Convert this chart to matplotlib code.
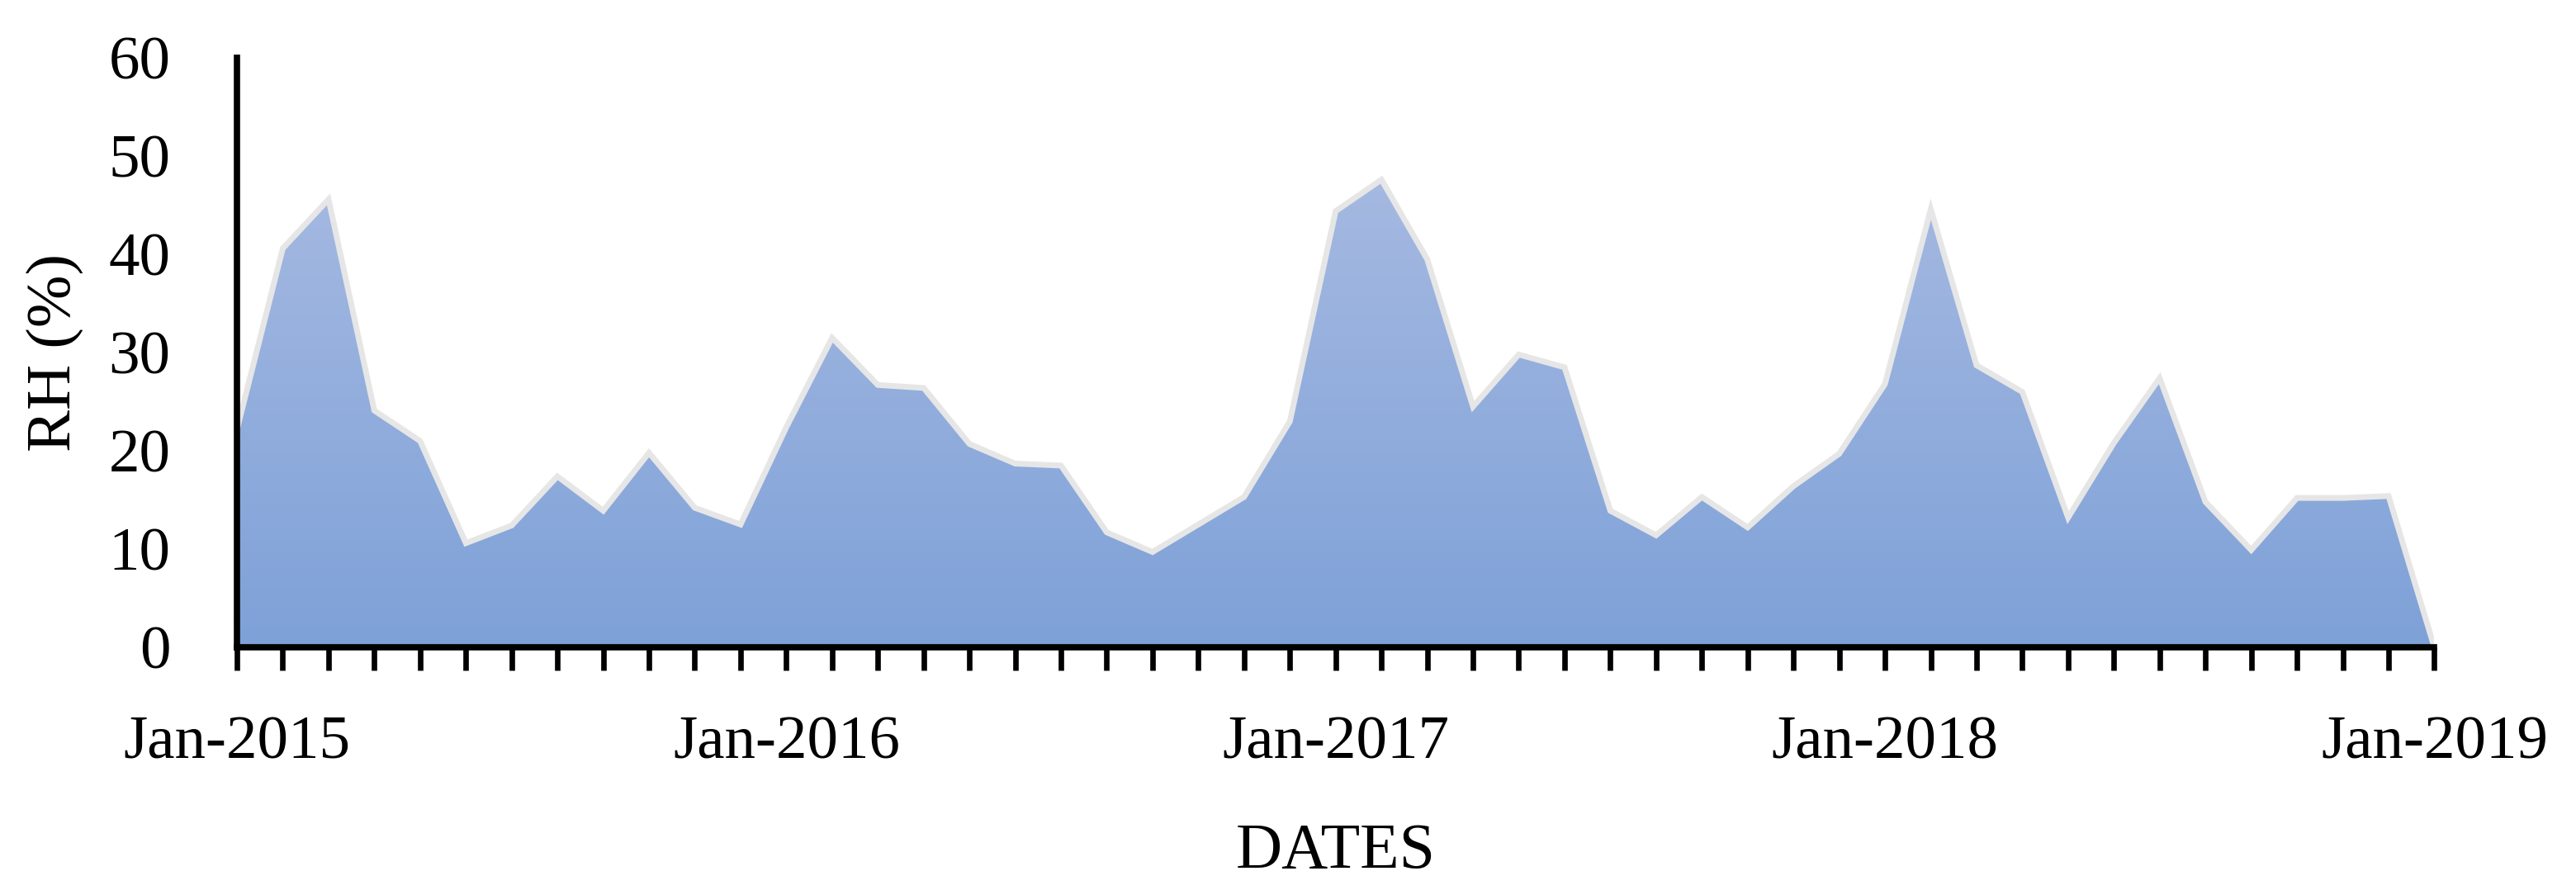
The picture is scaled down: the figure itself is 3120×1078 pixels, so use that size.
import matplotlib

matplotlib.use("Agg")
import matplotlib.pyplot as plt
import numpy as np
from matplotlib.colors import LinearSegmentedColormap

plt.rcParams["font.family"] = ["Liberation Serif", "DejaVu Serif"]

# monthly relative humidity, Jan-2015 .. Jan-2019
months = [f"{m}-{y}" for y in range(2015, 2019) for m in
          ["Jan", "Feb", "Mar", "Apr", "May", "Jun",
           "Jul", "Aug", "Sep", "Oct", "Nov", "Dec"]] + ["Jan-2019"]
rh_2015 = [22.2, 40.6, 45.6, 24.1, 21.0, 10.6, 12.4, 17.4, 13.9, 19.8, 14.2, 12.5]
rh_2016 = [22.4, 31.5, 26.7, 26.4, 20.7, 18.7, 18.5, 11.7, 9.7, 12.5, 15.3, 23.0]
rh_2017 = [44.4, 47.6, 39.5, 24.5, 29.8, 28.5, 13.9, 11.4, 15.3, 12.2, 16.4, 19.7]
rh_2018 = [26.8, 44.6, 28.7, 26.0, 13.2, 20.8, 27.4, 14.8, 9.9, 15.2, 15.2, 15.4]
rh_2019 = [0.0]

rh = np.array(rh_2015 + rh_2016 + rh_2017 + rh_2018 + rh_2019)
x = np.arange(len(rh))

fig = plt.figure(figsize=(31.2, 10.78), dpi=100)
ax = fig.add_axes([0.092, 0.2727, 0.853, 0.6623])

# gradient fill clipped to the area under the curve
poly = ax.fill_between(x, rh, 0, facecolor="none", edgecolor="none")
cmap = LinearSegmentedColormap.from_list("rh", ["#7ea1d8", "#a5b9e1"])
grad = np.linspace(0, 1, 256).reshape(-1, 1)
img = ax.imshow(grad, extent=[x[0], x[-1], 0, rh.max()], origin="lower",
                aspect="auto", cmap=cmap, zorder=1)
clip = poly.get_paths()[0]
img.set_clip_path(clip, transform=ax.transData)

ax.plot(x, rh, color="#e6e6e6", linewidth=5, solid_joinstyle="miter", zorder=2)

ax.set_xlim(x[0], x[-1])
ax.set_ylim(0, 60)
ax.set_yticks(range(0, 61, 10))

ax.set_xticks(x)
ax.set_xticklabels([lab if i % 12 == 0 else "" for i, lab in enumerate(months)])

for side in ["top", "right"]:
    ax.spines[side].set_visible(False)
for side in ["left", "bottom"]:
    ax.spines[side].set_linewidth(5.5)
    ax.spines[side].set_zorder(3)

ax.tick_params(axis="x", length=20, width=4.8, direction="out",
               labelsize=54, pad=40)
ax.tick_params(axis="y", length=0, labelsize=54, pad=58)

ax.set_xlabel("DATES", fontsize=56, labelpad=44)
ax.set_ylabel("RH (%)", fontsize=55, labelpad=22)

fig.savefig("out.png", dpi=100)
